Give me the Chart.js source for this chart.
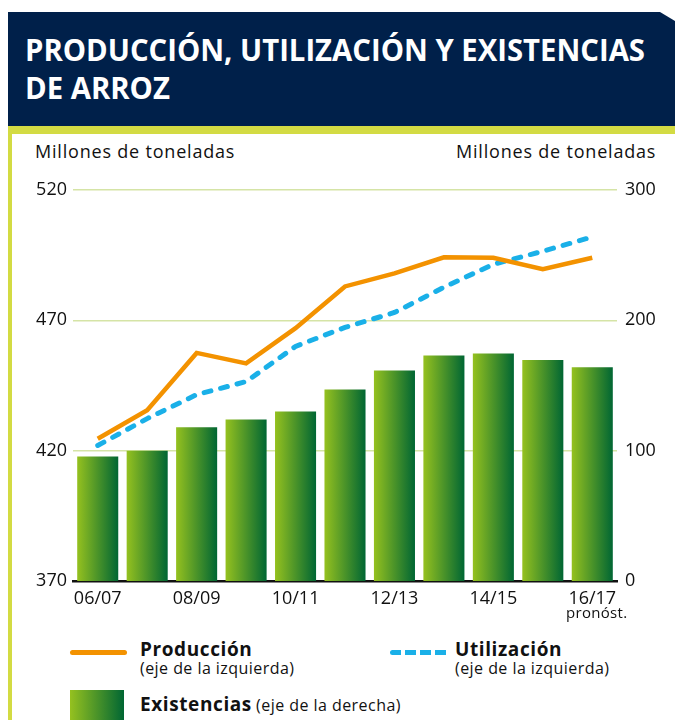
<!DOCTYPE html>
<html>
<head>
<meta charset="utf-8">
<script src="https://cdn.jsdelivr.net/npm/chart.js@4.4.1/dist/chart.umd.min.js"></script>
<style>
  html, body { margin: 0; padding: 0; background: #fff; }
  body { width: 675px; height: 720px; position: relative; overflow: hidden; font-family: "Open Sans", "Noto Sans", sans-serif; color: #111; }
  #head { position: absolute; left: 8px; top: 12px; width: 667px; height: 114px; background: #00204a;
          clip-path: polygon(0 0, 652px 0, 667px 9px, 667px 114px, 0 114px); }
  #title { position: absolute; left: 17px; top: 18px; color: #fff; font-family: "Open Sans", "Noto Sans", sans-serif; font-weight: 700; font-size: 31px; line-height: 38px; white-space: nowrap; transform-origin: 0 0; }
  #title span { display: inline-block; }
  #band { position: absolute; left: 8px; top: 126px; width: 667px; height: 8px; background: #d3db43; }
  #vbar { position: absolute; left: 8px; top: 126px; width: 4px; height: 594px; background: #d3db43; }
  .ax { position: absolute; top: 139px; font-size: 18px; letter-spacing: 0.8px; }
  #chartbox { position: absolute; left: 0; top: 140px; width: 675px; height: 490px; }
  #pron { position: absolute; left: 566px; top: 602px; font-size: 15px; letter-spacing: 0.3px; }
  .lg { position: absolute; }
  .lgb { font-weight: 700; font-size: 19px; letter-spacing: 0.6px; }
  .lgs { font-size: 16px; letter-spacing: 0.45px; }
</style>
</head>
<body>
<div id="head"><div id="title"><span id="t1">PRODUCCIÓN, UTILIZACIÓN Y EXISTENCIAS</span><br><span>DE ARROZ</span></div></div>
<div id="band"></div>
<div id="vbar"></div>
<div class="ax" style="left:35px;">Millones de toneladas</div>
<div class="ax" style="left:456px;">Millones de toneladas</div>
<div id="chartbox"><canvas id="c" width="675" height="490"></canvas></div>
<div id="pron">pronóst.</div>

<div class="lg" style="left:70px; top:650px; width:57px; height:5px; background:#f39200; border-radius:3px;"></div>
<div class="lg lgb" style="left:140px; top:636px;">Producción</div>
<div class="lg lgs" style="left:140px; top:657px;">(eje de la izquierda)</div>

<div class="lg" style="left:390px; top:650px; width:60px; height:5px; background: repeating-linear-gradient(90deg, #1ab0e8 0 11px, transparent 11px 15px); border-radius:3px;"></div>
<div class="lg lgb" style="left:455px; top:636px;">Utilización</div>
<div class="lg lgs" style="left:455px; top:657px;">(eje de la izquierda)</div>

<div class="lg" style="left:70px; top:690px; width:54px; height:32px; background: linear-gradient(90deg, #95c11f, #006633);"></div>
<div class="lg" style="left:140px; top:691px;"><span class="lgb">Existencias</span> <span class="lgs">(eje de la derecha)</span></div>

<script>
const categories = ["06/07","07/08","08/09","09/10","10/11","11/12","12/13","13/14","14/15","15/16","16/17"];
const produccion = [424.6, 435.5, 457.5, 453.5, 467, 483, 488, 494.2, 494, 489.6, 494];
const utilizacion = [422, 432.3, 441.5, 446.5, 460, 467.3, 473, 482.7, 491.5, 496.5, 502];
const existencias = [95.5, 100, 118, 124, 130, 147, 161.5, 173, 174.5, 169.5, 164];
const leftTicks = [370, 420, 470, 520];
const rightTicks = [0, 100, 200, 300];

const BAR_PCT = 0.83;

// fit condensed title
(function () {
  const t1 = document.getElementById('t1');
  const w = t1.getBoundingClientRect().width;
  const k = 620 / w;
  document.getElementById('title').style.transform = 'scaleX(' + k + ')';
})();

function barGradient(c) {
  const ch = c.chart;
  const xs = ch.scales && ch.scales.x;
  const a = ch.chartArea;
  if (!a || !xs || c.type !== 'data') return '#4a9a2a';
  const cx = xs.getPixelForValue(c.dataIndex);
  const w = a.width / categories.length * BAR_PCT;
  const g = ch.ctx.createLinearGradient(cx - w / 2, 0, cx + w / 2, 0);
  g.addColorStop(0, '#95c11f');
  g.addColorStop(1, '#006633');
  return g;
}

const tickFont = { family: '"Open Sans", "Noto Sans", sans-serif', size: 18 };

new Chart(document.getElementById('c'), {
  data: {
    labels: categories,
    datasets: [
      { type: 'line', label: 'Producción', data: produccion, yAxisID: 'y', borderColor: '#f39200', borderWidth: 4.5,
        pointRadius: 0, tension: 0, order: 0, borderJoinStyle: 'miter' },
      { type: 'line', label: 'Utilización', data: utilizacion, yAxisID: 'y', borderColor: '#1ab0e8', borderWidth: 5,
        borderDash: [7, 10], borderCapStyle: 'round', pointRadius: 0, tension: 0, order: 1 },
      { type: 'bar', label: 'Existencias', data: existencias, yAxisID: 'y2', backgroundColor: barGradient,
        barPercentage: BAR_PCT, categoryPercentage: 1, borderWidth: 0, order: 2 }
    ]
  },
  options: {
    responsive: false,
    animation: false,
    events: [],
    layout: { padding: { left: 18, right: 3, top: 50, bottom: 0 } },
    plugins: { legend: { display: false }, tooltip: { enabled: false } },
    scales: {
      x: {
        grid: { display: false, drawTicks: false },
        border: { display: true, color: '#111', width: 2.5 },
        ticks: { font: tickFont, color: '#111', padding: 7, maxRotation: 0, autoSkip: false,
                 callback: (v, i) => (i % 2 === 0 ? categories[i] : '') },
        afterFit: s => { s.height = 49; }
      },
      y: {
        position: 'left', min: 370, max: 520,
        afterBuildTicks: s => { s.ticks = leftTicks.map(v => ({ value: v })); },
        grid: { color: c => (c.tick && c.tick.value === 370 ? 'rgba(0,0,0,0)' : '#d5e4a6'), lineWidth: 1.5, drawTicks: false },
        border: { display: false },
        ticks: { font: tickFont, color: '#111', padding: 6 },
        afterFit: s => { s.width = 55; }
      },
      y2: {
        position: 'right', min: 0, max: 300,
        afterBuildTicks: s => { s.ticks = rightTicks.map(v => ({ value: v })); },
        grid: { display: false, drawTicks: false },
        border: { display: false },
        ticks: { font: tickFont, color: '#111', padding: 8 },
        afterFit: s => { s.width = 55; }
      }
    }
  }
});
</script>
</body>
</html>
